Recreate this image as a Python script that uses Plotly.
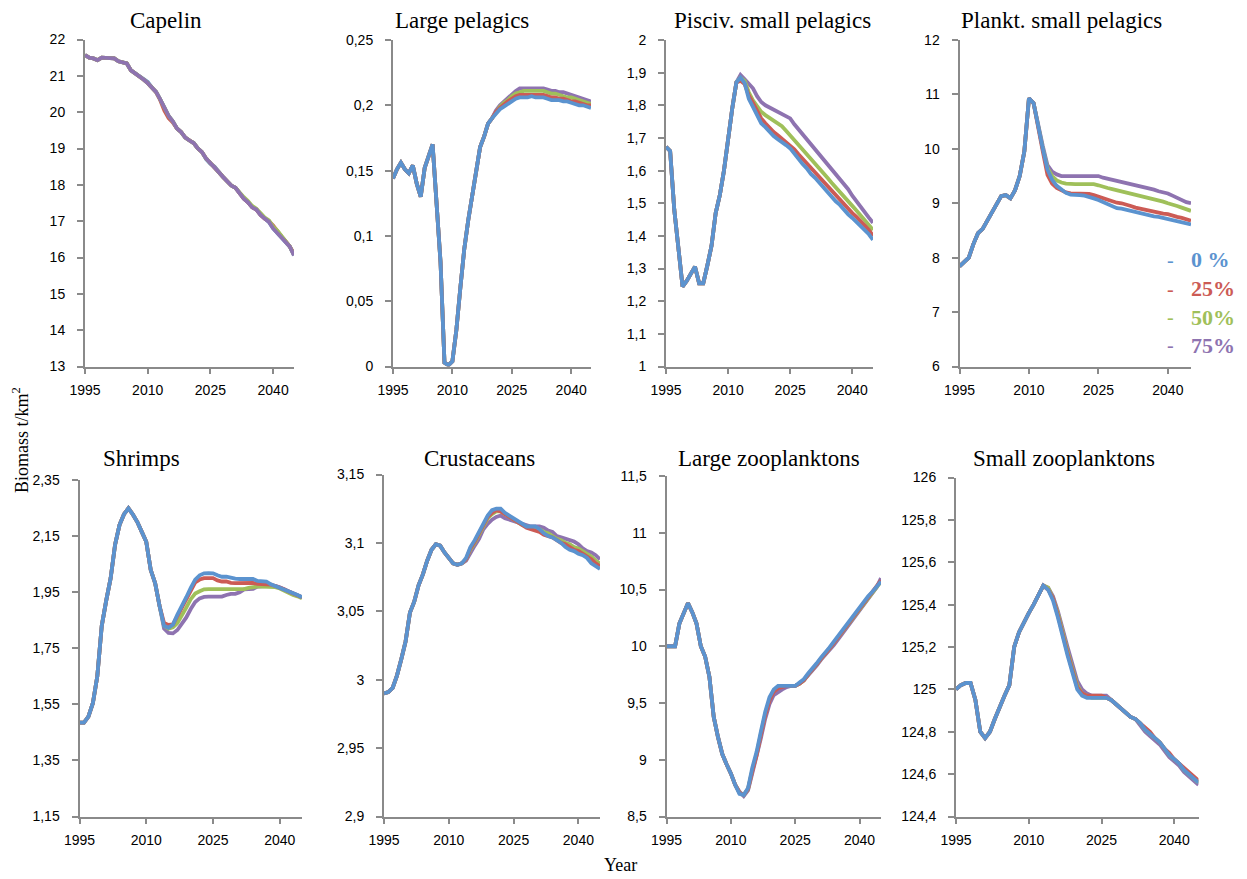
import plotly.graph_objects as go

years = list(range(1995, 2046))
scenarios = ["0 %", "25%", "50%", "75%"]
colors = ["#5B93CF", "#CC5B55", "#9FC05A", "#8E73B0"]

# ---------------- Capelin ----------------
capelin_head = [21.57, 21.50, 21.48, 21.43, 21.50, 21.50, 21.50, 21.48, 21.40, 21.36,
                21.34, 21.15, 21.07, 21.00, 20.90]
capelin_0 = capelin_head + [20.83, 20.68, 20.56, 20.35, 20.10, 19.90, 19.75, 19.55, 19.45, 19.30,
                            19.22, 19.15, 19.00, 18.90, 18.70, 18.58, 18.50, 18.35, 18.22, 18.10,
                            17.98, 17.92, 17.75, 17.62, 17.52, 17.38, 17.32, 17.17, 17.07, 16.98,
                            16.80, 16.68, 16.56, 16.45, 16.30, 16.06]
capelin_25 = capelin_head + [20.80, 20.68, 20.55, 20.33, 20.04, 19.84, 19.72, 19.55, 19.45, 19.30,
                             19.22, 19.15, 19.00, 18.90, 18.72, 18.60, 18.50, 18.35, 18.22, 18.10,
                             17.98, 17.92, 17.75, 17.62, 17.52, 17.38, 17.32, 17.17, 17.07, 17.00,
                             16.88, 16.72, 16.58, 16.45, 16.30, 16.10]
capelin_50 = capelin_head + [20.80, 20.68, 20.56, 20.35, 20.10, 19.90, 19.75, 19.55, 19.45, 19.30,
                             19.22, 19.15, 19.00, 18.90, 18.72, 18.60, 18.50, 18.35, 18.22, 18.10,
                             17.98, 17.92, 17.77, 17.66, 17.55, 17.42, 17.34, 17.20, 17.10, 17.02,
                             16.85, 16.74, 16.60, 16.46, 16.30, 16.07]
capelin_75 = capelin_head + [20.80, 20.68, 20.56, 20.35, 20.10, 19.90, 19.75, 19.55, 19.45, 19.30,
                             19.22, 19.15, 19.00, 18.90, 18.72, 18.60, 18.50, 18.35, 18.22, 18.10,
                             17.98, 17.92, 17.75, 17.62, 17.52, 17.38, 17.32, 17.17, 17.07, 16.98,
                             16.80, 16.68, 16.56, 16.45, 16.30, 16.06]

# ---------------- Large pelagics ----------------
lpel_head = [0.144, 0.151, 0.156, 0.151, 0.148, 0.154, 0.140, 0.130, 0.152, 0.162,
             0.170, 0.125, 0.080, 0.003, 0.001, 0.004, 0.028, 0.060, 0.090, 0.112,
             0.132, 0.150, 0.168, 0.176, 0.186, 0.190]
lpel_0 = lpel_head + [0.194, 0.197, 0.199, 0.201, 0.203, 0.205, 0.206, 0.206, 0.206, 0.207,
                      0.206, 0.206, 0.206, 0.205, 0.204, 0.204, 0.204, 0.203, 0.203, 0.202,
                      0.201, 0.200, 0.200, 0.199, 0.198]
lpel_25 = lpel_head + [0.195, 0.198, 0.201, 0.203, 0.205, 0.207, 0.208, 0.208, 0.208, 0.208,
                       0.208, 0.208, 0.208, 0.207, 0.206, 0.206, 0.205, 0.205, 0.204, 0.203,
                       0.203, 0.202, 0.201, 0.200, 0.200]
lpel_50 = lpel_head + [0.195, 0.199, 0.202, 0.204, 0.207, 0.209, 0.210, 0.211, 0.211, 0.211,
                       0.211, 0.211, 0.211, 0.210, 0.209, 0.209, 0.208, 0.207, 0.206, 0.206,
                       0.205, 0.204, 0.203, 0.202, 0.201]
lpel_75 = lpel_head + [0.196, 0.200, 0.203, 0.206, 0.209, 0.211, 0.213, 0.213, 0.213, 0.213,
                       0.213, 0.213, 0.213, 0.212, 0.211, 0.211, 0.210, 0.210, 0.209, 0.208,
                       0.207, 0.206, 0.205, 0.204, 0.203]

# ---------------- Pisciv. small pelagics ----------------
pisc_head = [1.673, 1.660, 1.480, 1.357, 1.245, 1.262, 1.285, 1.306, 1.255, 1.255,
             1.310, 1.370, 1.470, 1.525, 1.600, 1.700, 1.790, 1.870]
pisc_0 = pisc_head + [1.885, 1.868, 1.820, 1.795, 1.772, 1.745, 1.733, 1.718, 1.706, 1.696,
                      1.688, 1.678, 1.668, 1.652, 1.634, 1.620, 1.607, 1.590, 1.578, 1.563,
                      1.550, 1.535, 1.520, 1.506, 1.495, 1.480, 1.466, 1.455, 1.443, 1.432,
                      1.420, 1.405, 1.388]
pisc_25 = pisc_head + [1.875, 1.865, 1.830, 1.808, 1.785, 1.760, 1.745, 1.730, 1.718, 1.708,
                       1.698, 1.688, 1.678, 1.665, 1.650, 1.636, 1.622, 1.607, 1.595, 1.580,
                       1.565, 1.550, 1.537, 1.522, 1.510, 1.497, 1.483, 1.470, 1.458, 1.446,
                       1.433, 1.418, 1.400]
pisc_50 = pisc_head + [1.885, 1.875, 1.840, 1.815, 1.795, 1.780, 1.770, 1.762, 1.754, 1.746,
                       1.736, 1.722, 1.708, 1.694, 1.680, 1.666, 1.652, 1.637, 1.622, 1.607,
                       1.593, 1.578, 1.563, 1.548, 1.533, 1.519, 1.505, 1.492, 1.478, 1.464,
                       1.450, 1.434, 1.418]
pisc_75 = pisc_head + [1.893, 1.880, 1.865, 1.852, 1.828, 1.810, 1.800, 1.793, 1.788, 1.782,
                       1.775, 1.768, 1.760, 1.742, 1.727, 1.712, 1.695, 1.680, 1.665, 1.650,
                       1.635, 1.620, 1.605, 1.590, 1.575, 1.560, 1.543, 1.523, 1.505, 1.490,
                       1.473, 1.456, 1.440]

# ---------------- Plankt. small pelagics ----------------
plank_head = [7.84, 7.92, 8.00, 8.25, 8.45, 8.53, 8.68, 8.85, 8.97, 9.13,
              9.15, 9.09, 9.24, 9.50, 9.95, 10.93, 10.84]
plank_0 = plank_head + [10.40, 10.00, 9.62, 9.43, 9.32, 9.25, 9.19, 9.16, 9.16, 9.15,
                        9.14, 9.12, 9.09, 9.06, 9.02, 8.98, 8.94, 8.91, 8.90, 8.88,
                        8.86, 8.83, 8.81, 8.80, 8.78, 8.76, 8.75, 8.73, 8.72, 8.70,
                        8.68, 8.65, 8.63, 8.61]
plank_25 = plank_head + [10.35, 9.95, 9.52, 9.36, 9.28, 9.23, 9.20, 9.18, 9.18, 9.18,
                         9.18, 9.17, 9.15, 9.12, 9.10, 9.06, 9.03, 9.01, 9.00, 8.98,
                         8.95, 8.92, 8.90, 8.89, 8.87, 8.85, 8.83, 8.81, 8.80, 8.77,
                         8.75, 8.73, 8.70, 8.68]
plank_50 = plank_head + [10.38, 10.00, 9.65, 9.50, 9.42, 9.38, 9.36, 9.35, 9.35, 9.35,
                         9.35, 9.35, 9.35, 9.33, 9.30, 9.28, 9.26, 9.24, 9.22, 9.20,
                         9.18, 9.15, 9.13, 9.12, 9.10, 9.08, 9.05, 9.03, 9.00, 8.98,
                         8.95, 8.92, 8.89, 8.86]
plank_75 = plank_head + [10.40, 10.05, 9.70, 9.58, 9.53, 9.50, 9.50, 9.50, 9.50, 9.50,
                         9.50, 9.50, 9.50, 9.50, 9.47, 9.45, 9.43, 9.42, 9.40, 9.37,
                         9.35, 9.33, 9.31, 9.30, 9.27, 9.25, 9.22, 9.20, 9.18, 9.14,
                         9.10, 9.06, 9.02, 9.00]

# ---------------- Shrimps ----------------
shrimp_head = [1.485, 1.485, 1.506, 1.554, 1.650, 1.830, 1.920, 2.000, 2.120, 2.190,
               2.228, 2.249, 2.227, 2.200, 2.165, 2.130, 2.030, 1.982, 1.900]
shrimp_0 = shrimp_head + [1.830, 1.823, 1.835, 1.870, 1.905, 1.932, 1.965, 1.995, 2.010, 2.017,
                          2.018, 2.017, 2.010, 2.005, 2.005, 2.000, 1.998, 1.997, 1.997, 1.997,
                          1.997, 1.990, 1.988, 1.988, 1.978, 1.972, 1.967, 1.960, 1.952, 1.946,
                          1.940, 1.932]
shrimp_25 = shrimp_head + [1.840, 1.833, 1.835, 1.865, 1.895, 1.925, 1.960, 1.985, 1.995, 2.000,
                           2.000, 2.000, 1.992, 1.988, 1.988, 1.983, 1.982, 1.982, 1.982, 1.984,
                           1.983, 1.980, 1.980, 1.980, 1.977, 1.972, 1.967, 1.960, 1.952, 1.946,
                           1.940, 1.932]
shrimp_50 = shrimp_head + [1.830, 1.820, 1.825, 1.840, 1.865, 1.895, 1.925, 1.945, 1.953, 1.960,
                           1.961, 1.961, 1.961, 1.961, 1.961, 1.961, 1.961, 1.961, 1.961, 1.965,
                           1.968, 1.970, 1.970, 1.970, 1.970, 1.968, 1.963, 1.955, 1.948, 1.940,
                           1.935, 1.928]
shrimp_75 = shrimp_head + [1.820, 1.805, 1.803, 1.815, 1.835, 1.860, 1.890, 1.915, 1.928, 1.933,
                           1.934, 1.934, 1.934, 1.934, 1.940, 1.944, 1.944, 1.950, 1.960, 1.960,
                           1.962, 1.970, 1.972, 1.972, 1.972, 1.972, 1.967, 1.960, 1.952, 1.946,
                           1.940, 1.932]

# ---------------- Crustaceans ----------------
crust_head = [2.990, 2.991, 2.994, 3.003, 3.015, 3.028, 3.049, 3.057, 3.069, 3.077,
              3.087, 3.095, 3.099, 3.098, 3.093, 3.089, 3.085, 3.084, 3.085]
crust_0 = crust_head + [3.089, 3.097, 3.102, 3.108, 3.115, 3.120, 3.124, 3.125, 3.125, 3.122,
                        3.120, 3.118, 3.116, 3.114, 3.112, 3.112, 3.112, 3.110, 3.107, 3.105,
                        3.104, 3.102, 3.100, 3.097, 3.095, 3.094, 3.092, 3.091, 3.089, 3.085,
                        3.083, 3.081]
crust_25 = crust_head + [3.088, 3.096, 3.101, 3.107, 3.114, 3.119, 3.122, 3.124, 3.123, 3.121,
                         3.119, 3.117, 3.115, 3.113, 3.111, 3.110, 3.109, 3.108, 3.106, 3.105,
                         3.104, 3.102, 3.100, 3.099, 3.097, 3.095, 3.094, 3.092, 3.090, 3.088,
                         3.085, 3.083]
crust_50 = crust_head + [3.088, 3.095, 3.100, 3.106, 3.113, 3.118, 3.121, 3.123, 3.123, 3.121,
                         3.119, 3.117, 3.115, 3.113, 3.112, 3.111, 3.111, 3.110, 3.108, 3.107,
                         3.105, 3.103, 3.102, 3.100, 3.099, 3.097, 3.096, 3.094, 3.092, 3.090,
                         3.087, 3.085]
crust_75 = crust_head + [3.087, 3.093, 3.098, 3.103, 3.110, 3.114, 3.117, 3.119, 3.120, 3.118,
                         3.117, 3.116, 3.115, 3.114, 3.113, 3.112, 3.112, 3.112, 3.111, 3.109,
                         3.108, 3.105, 3.104, 3.103, 3.102, 3.101, 3.099, 3.096, 3.094, 3.093,
                         3.091, 3.088]

# ---------------- Large zooplanktons ----------------
lzoo_head = [10.00, 10.00, 10.00, 10.20, 10.30, 10.38, 10.30, 10.20, 10.00, 9.91,
             9.73, 9.38, 9.20, 9.05, 8.96, 8.88, 8.78]
lzoo_0 = lzoo_head + [8.70, 8.69, 8.75, 8.93, 9.07, 9.25, 9.42, 9.55, 9.62, 9.65,
                      9.65, 9.65, 9.65, 9.65, 9.68, 9.71, 9.76, 9.80, 9.85, 9.90,
                      9.94, 9.99, 10.04, 10.09, 10.15, 10.20, 10.25, 10.30, 10.35, 10.39,
                      10.44, 10.48, 10.53, 10.57]
lzoo_25 = lzoo_head + [8.71, 8.69, 8.74, 8.90, 9.04, 9.22, 9.39, 9.52, 9.60, 9.63,
                       9.64, 9.65, 9.65, 9.65, 9.67, 9.70, 9.75, 9.79, 9.84, 9.89,
                       9.93, 9.98, 10.03, 10.08, 10.13, 10.18, 10.23, 10.28, 10.34, 10.38,
                       10.43, 10.48, 10.53, 10.58]
lzoo_50 = lzoo_head + [8.71, 8.69, 8.74, 8.91, 9.05, 9.23, 9.40, 9.53, 9.61, 9.64,
                       9.65, 9.65, 9.65, 9.65, 9.67, 9.70, 9.75, 9.79, 9.84, 9.89,
                       9.93, 9.98, 10.03, 10.08, 10.13, 10.18, 10.23, 10.28, 10.33, 10.38,
                       10.43, 10.48, 10.52, 10.57]
lzoo_75 = lzoo_head + [8.72, 8.68, 8.73, 8.88, 9.02, 9.19, 9.36, 9.49, 9.57, 9.60,
                       9.62, 9.64, 9.65, 9.65, 9.67, 9.70, 9.74, 9.78, 9.83, 9.88,
                       9.92, 9.96, 10.01, 10.06, 10.11, 10.17, 10.22, 10.27, 10.32, 10.37,
                       10.42, 10.47, 10.52, 10.60]

# ---------------- Small zooplanktons ----------------
szoo_head = [125.00, 125.02, 125.03, 125.03, 124.95, 124.80, 124.77, 124.80, 124.86, 124.92,
             124.97, 125.02, 125.20, 125.27, 125.32, 125.36, 125.40, 125.45, 125.49]
szoo_0 = szoo_head + [125.47, 125.42, 125.34, 125.24, 125.16, 125.08, 125.00, 124.97, 124.96, 124.96,
                      124.96, 124.96, 124.96, 124.95, 124.93, 124.91, 124.89, 124.87, 124.86, 124.84,
                      124.81, 124.79, 124.77, 124.75, 124.72, 124.69, 124.67, 124.65, 124.62, 124.60,
                      124.58, 124.56]
szoo_25 = szoo_head + [125.47, 125.43, 125.35, 125.25, 125.17, 125.09, 125.01, 124.98, 124.97, 124.97,
                       124.97, 124.97, 124.96, 124.95, 124.93, 124.91, 124.89, 124.87, 124.86, 124.84,
                       124.82, 124.80, 124.77, 124.75, 124.72, 124.70, 124.67, 124.65, 124.63, 124.61,
                       124.59, 124.57]
szoo_50 = szoo_head + [125.48, 125.43, 125.36, 125.26, 125.18, 125.10, 125.02, 124.98, 124.97, 124.96,
                       124.96, 124.96, 124.96, 124.95, 124.93, 124.91, 124.89, 124.87, 124.86, 124.84,
                       124.81, 124.79, 124.77, 124.75, 124.72, 124.69, 124.67, 124.65, 124.62, 124.60,
                       124.58, 124.56]
szoo_75 = szoo_head + [125.48, 125.44, 125.37, 125.28, 125.20, 125.12, 125.04, 125.00, 124.98, 124.97,
                       124.97, 124.97, 124.97, 124.95, 124.93, 124.91, 124.89, 124.87, 124.86, 124.83,
                       124.80, 124.78, 124.76, 124.74, 124.71, 124.68, 124.66, 124.64, 124.61, 124.59,
                       124.57, 124.55]

# ---------------- Axes ----------------
x_tickvals = [1995, 2010, 2025, 2040]
x_ticktext = ["1995", "2010", "2025", "2040"]

panels = [
    dict(title="Capelin", series=[capelin_0, capelin_25, capelin_50, capelin_75],
         order=[0, 1, 2, 3], yrange=[13, 22],
         yticks=[13, 14, 15, 16, 17, 18, 19, 20, 21, 22],
         ylabels=["13", "14", "15", "16", "17", "18", "19", "20", "21", "22"]),
    dict(title="Large pelagics", series=[lpel_0, lpel_25, lpel_50, lpel_75],
         order=[3, 2, 1, 0], yrange=[0, 0.25],
         yticks=[0, 0.05, 0.1, 0.15, 0.2, 0.25],
         ylabels=["0", "0,05", "0,1", "0,15", "0,2", "0,25"]),
    dict(title="Pisciv. small pelagics", series=[pisc_0, pisc_25, pisc_50, pisc_75],
         order=[3, 2, 1, 0], yrange=[1, 2],
         yticks=[1, 1.1, 1.2, 1.3, 1.4, 1.5, 1.6, 1.7, 1.8, 1.9, 2],
         ylabels=["1", "1,1", "1,2", "1,3", "1,4", "1,5", "1,6", "1,7", "1,8", "1,9", "2"]),
    dict(title="Plankt. small pelagics", series=[plank_0, plank_25, plank_50, plank_75],
         order=[3, 2, 1, 0], yrange=[6, 12],
         yticks=[6, 7, 8, 9, 10, 11, 12],
         ylabels=["6", "7", "8", "9", "10", "11", "12"]),
    dict(title="Shrimps", series=[shrimp_0, shrimp_25, shrimp_50, shrimp_75],
         order=[3, 2, 1, 0], yrange=[1.15, 2.35],
         yticks=[1.15, 1.35, 1.55, 1.75, 1.95, 2.15, 2.35],
         ylabels=["1,15", "1,35", "1,55", "1,75", "1,95", "2,15", "2,35"]),
    dict(title="Crustaceans", series=[crust_0, crust_25, crust_50, crust_75],
         order=[3, 2, 1, 0], yrange=[2.9, 3.15],
         yticks=[2.9, 2.95, 3.0, 3.05, 3.1, 3.15],
         ylabels=["2,9", "2,95", "3", "3,05", "3,1", "3,15"]),
    dict(title="Large zooplanktons", series=[lzoo_0, lzoo_25, lzoo_50, lzoo_75],
         order=[3, 2, 1, 0], yrange=[8.5, 11.5],
         yticks=[8.5, 9, 9.5, 10, 10.5, 11, 11.5],
         ylabels=["8,5", "9", "9,5", "10", "10,5", "11", "11,5"]),
    dict(title="Small zooplanktons", series=[szoo_0, szoo_25, szoo_50, szoo_75],
         order=[3, 2, 1, 0], yrange=[124.4, 126],
         yticks=[124.4, 124.6, 124.8, 125, 125.2, 125.4, 125.6, 125.8, 126],
         ylabels=["124,4", "124,6", "124,8", "125", "125,2", "125,4", "125,6", "125,8", "126"]),
]

# figure slightly smaller than the window so the page never overflows
W, H = 1242, 874


def px(x):
    return x / W


def py(y):
    return 1 - y / H


# plot-area boxes in page pixels: left, right, top, bottom
boxes = [
    (85, 294, 39.5, 366.5),
    (393, 591, 40, 366.5),
    (666, 873, 40, 366.5),
    (959.5, 1191, 40, 366.5),
    (79.5, 302, 480, 816.5),
    (384, 600, 474.5, 816.5),
    (666.5, 881, 476, 816.5),
    (956, 1198.5, 477.5, 816.5),
]
title_pos = [(165.5, 21), (462, 21), (772, 21), (1061, 21),
             (141, 458), (479, 458), (769, 458), (1064, 458)]

AXIS_COLOR = "#8A8A8A"
TICK_FONT = dict(family="Liberation Sans, Arial, sans-serif", size=14, color="#000000")
SERIF = "Liberation Serif, Times New Roman, serif"

fig = go.Figure()
layout = dict(
    width=W, height=H,
    margin=dict(l=0, r=0, t=0, b=0, pad=0),
    paper_bgcolor="white", plot_bgcolor="white",
    showlegend=False,
)
annotations = []

for i, (p, box) in enumerate(zip(panels, boxes)):
    k = i + 1
    xa = "x" if k == 1 else f"x{k}"
    ya = "y" if k == 1 else f"y{k}"
    for s in p["order"]:
        fig.add_trace(go.Scatter(
            x=years, y=p["series"][s], mode="lines", name=scenarios[s],
            line=dict(color=colors[s], width=3.8),
            xaxis=xa, yaxis=ya, hoverinfo="skip",
        ))
    l, r, t, b = box
    layout[f"xaxis{k}"] = dict(
        domain=[px(l), px(r)], anchor=ya, range=[1995, 2045],
        tickvals=x_tickvals, ticktext=x_ticktext, tickfont=TICK_FONT,
        showline=True, linecolor=AXIS_COLOR, linewidth=2,
        ticks="outside", ticklen=5, tickwidth=1.5, tickcolor=AXIS_COLOR,
        ticklabelstandoff=5,
        showgrid=False, zeroline=False, fixedrange=True, automargin=False,
    )
    layout[f"yaxis{k}"] = dict(
        domain=[py(b), py(t)], anchor=xa, range=p["yrange"],
        tickvals=p["yticks"], ticktext=p["ylabels"], tickfont=TICK_FONT,
        showline=True, linecolor=AXIS_COLOR, linewidth=2,
        ticks="outside", ticklen=6, tickwidth=1.5, tickcolor=AXIS_COLOR,
        ticklabelstandoff=9,
        showgrid=False, zeroline=False, fixedrange=True, automargin=False,
    )
    tx, ty = title_pos[i]
    annotations.append(dict(
        text=p["title"], x=px(tx), y=py(ty), xref="paper", yref="paper",
        xanchor="center", yanchor="middle", showarrow=False,
        font=dict(family=SERIF, size=23, color="#000000"),
    ))

# axis titles
annotations.append(dict(
    text="Biomass t/km<sup>2</sup>", x=px(20), y=py(440), xref="paper", yref="paper",
    xanchor="center", yanchor="middle", textangle=-90, showarrow=False,
    font=dict(family=SERIF, size=18, color="#000000"),
))
annotations.append(dict(
    text="Year", x=px(620), y=py(865), xref="paper", yref="paper",
    xanchor="center", yanchor="middle", showarrow=False,
    font=dict(family=SERIF, size=18, color="#000000"),
))

# legend (coloured text)
legend_rows = [260, 288.5, 317, 345]
for s, ly in enumerate(legend_rows):
    annotations.append(dict(
        text="-", x=px(1170), y=py(ly), xref="paper", yref="paper",
        xanchor="center", yanchor="middle", showarrow=False,
        font=dict(family=SERIF, size=20, color=colors[s]),
    ))
    annotations.append(dict(
        text="<b>" + scenarios[s] + "</b>", x=px(1189), y=py(ly), xref="paper", yref="paper",
        xanchor="left", yanchor="middle", showarrow=False,
        font=dict(family=SERIF, size=22, color=colors[s]),
    ))

layout["annotations"] = annotations
fig.update_layout(**layout)
fig.write_html("out.html")
